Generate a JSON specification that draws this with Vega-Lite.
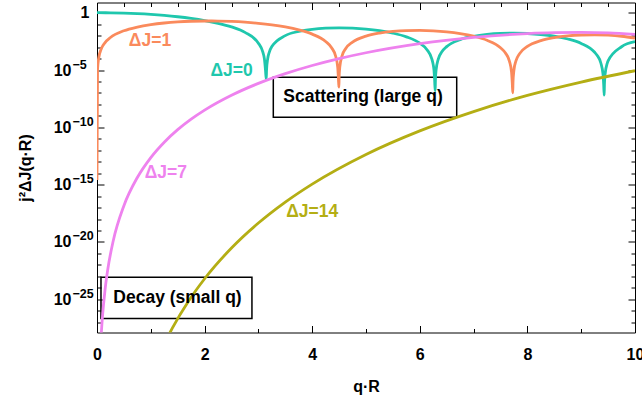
{
  "$schema": "https://vega.github.io/schema/vega-lite/v6.json",
  "width": 538,
  "height": 330,
  "autosize": {"type": "none"},
  "padding": {"left": 97, "top": 2.5, "right": 7, "bottom": 69.5},
  "background": "white",
  "config": {"view": {"stroke": "black", "strokeWidth": 1}, "font": "Liberation Sans"},
  "datasets": {
    "curves": [
      {"s": "ΔJ=0", "x": 0, "v": 1},
      {"s": "ΔJ=0", "x": 0.25, "v": 0.97934},
      {"s": "ΔJ=0", "x": 0.5, "v": 0.919397},
      {"s": "ΔJ=0", "x": 0.75, "v": 0.826012},
      {"s": "ΔJ=0", "x": 1, "v": 0.708073},
      {"s": "ΔJ=0", "x": 1.25, "v": 0.576366},
      {"s": "ΔJ=0", "x": 1.5, "v": 0.442221},
      {"s": "ΔJ=0", "x": 1.75, "v": 0.316157},
      {"s": "ΔJ=0", "x": 2, "v": 0.206705},
      {"s": "ΔJ=0", "x": 2.25, "v": 0.119585},
      {"s": "ΔJ=0", "x": 2.5, "v": 0.057307},
      {"s": "ΔJ=0", "x": 2.75, "v": 0.019262},
      {"s": "ΔJ=0", "x": 3, "v": 0.0022128},
      {"s": "ΔJ=0", "x": 3.0816, "v": 3.7884e-4},
      {"s": "ΔJ=0", "x": 3.1116, "v": 9.294e-5},
      {"s": "ΔJ=0", "x": 3.1316, "v": 1.0196e-5},
      {"s": "ΔJ=0", "x": 3.1456, "v": 1.617e-6},
      {"s": "ΔJ=0", "x": 3.1516, "v": 1.0068e-5},
      {"s": "ΔJ=0", "x": 3.1716, "v": 8.946e-5},
      {"s": "ΔJ=0", "x": 3.2016, "v": 3.5097e-4},
      {"s": "ΔJ=0", "x": 3.25, "v": 0.0011083},
      {"s": "ΔJ=0", "x": 3.5, "v": 0.010045},
      {"s": "ΔJ=0", "x": 3.75, "v": 0.023231},
      {"s": "ΔJ=0", "x": 4, "v": 0.035797},
      {"s": "ΔJ=0", "x": 4.25, "v": 0.044346},
      {"s": "ΔJ=0", "x": 4.5, "v": 0.047188},
      {"s": "ΔJ=0", "x": 4.75, "v": 0.044258},
      {"s": "ΔJ=0", "x": 5, "v": 0.036781},
      {"s": "ΔJ=0", "x": 5.25, "v": 0.026767},
      {"s": "ΔJ=0", "x": 5.5, "v": 0.016456},
      {"s": "ΔJ=0", "x": 5.75, "v": 0.0078273},
      {"s": "ΔJ=0", "x": 6, "v": 0.0021687},
      {"s": "ΔJ=0", "x": 6.1332, "v": 5.9746e-4},
      {"s": "ΔJ=0", "x": 6.2232, "v": 9.294e-5},
      {"s": "ΔJ=0", "x": 6.25, "v": 2.8181e-5},
      {"s": "ΔJ=0", "x": 6.2632, "v": 1.0196e-5},
      {"s": "ΔJ=0", "x": 6.2762, "v": 1.2439e-6},
      {"s": "ΔJ=0", "x": 6.2857, "v": 1.5832e-7},
      {"s": "ΔJ=0", "x": 6.2902, "v": 1.2385e-6},
      {"s": "ΔJ=0", "x": 6.3032, "v": 1.0068e-5},
      {"s": "ΔJ=0", "x": 6.3432, "v": 8.946e-5},
      {"s": "ΔJ=0", "x": 6.4132, "v": 4.1055e-4},
      {"s": "ΔJ=0", "x": 6.5, "v": 0.0010953},
      {"s": "ΔJ=0", "x": 6.75, "v": 0.0044453},
      {"s": "ΔJ=0", "x": 7, "v": 0.0088088},
      {"s": "ΔJ=0", "x": 7.25, "v": 0.012889},
      {"s": "ΔJ=0", "x": 7.5, "v": 0.015642},
      {"s": "ΔJ=0", "x": 7.75, "v": 0.01647},
      {"s": "ΔJ=0", "x": 8, "v": 0.015294},
      {"s": "ΔJ=0", "x": 8.25, "v": 0.012506},
      {"s": "ΔJ=0", "x": 8.5, "v": 0.0088247},
      {"s": "ΔJ=0", "x": 8.75, "v": 0.0050975},
      {"s": "ΔJ=0", "x": 9, "v": 0.0020968},
      {"s": "ΔJ=0", "x": 9.25, "v": 3.5518e-4},
      {"s": "ΔJ=0", "x": 9.2948, "v": 1.9553e-4},
      {"s": "ΔJ=0", "x": 9.3648, "v": 4.1047e-5},
      {"s": "ΔJ=0", "x": 9.4048, "v": 4.5224e-6},
      {"s": "ΔJ=0", "x": 9.4178, "v": 5.5245e-7},
      {"s": "ΔJ=0", "x": 9.4272, "v": 6.4846e-8},
      {"s": "ΔJ=0", "x": 9.4318, "v": 5.5082e-7},
      {"s": "ΔJ=0", "x": 9.4448, "v": 4.4842e-6},
      {"s": "ΔJ=0", "x": 9.4848, "v": 4.0014e-5},
      {"s": "ΔJ=0", "x": 9.5, "v": 6.2578e-5},
      {"s": "ΔJ=0", "x": 9.75, "v": 0.0010711},
      {"s": "ΔJ=0", "x": 10, "v": 0.0029596},

      {"s": "ΔJ=1", "x": 1.5e-7, "v": 2.5e-15},
      {"s": "ΔJ=1", "x": 0.01, "v": 1.1111e-5},
      {"s": "ΔJ=1", "x": 0.03, "v": 9.998e-5},
      {"s": "ΔJ=1", "x": 0.08, "v": 7.102e-4},
      {"s": "ΔJ=1", "x": 0.15, "v": 0.0024888},
      {"s": "ΔJ=1", "x": 0.25, "v": 0.006858},
      {"s": "ΔJ=1", "x": 0.5, "v": 0.026419},
      {"s": "ΔJ=1", "x": 0.75, "v": 0.055798},
      {"s": "ΔJ=1", "x": 1, "v": 0.090703},
      {"s": "ΔJ=1", "x": 1.25, "v": 0.126091},
      {"s": "ΔJ=1", "x": 1.5, "v": 0.156953},
      {"s": "ΔJ=1", "x": 1.75, "v": 0.179062},
      {"s": "ΔJ=1", "x": 2, "v": 0.189571},
      {"s": "ΔJ=1", "x": 2.25, "v": 0.187387},
      {"s": "ΔJ=1", "x": 2.5, "v": 0.173233},
      {"s": "ΔJ=1", "x": 2.75, "v": 0.149443},
      {"s": "ΔJ=1", "x": 3, "v": 0.119493},
      {"s": "ΔJ=1", "x": 3.25, "v": 0.087405},
      {"s": "ΔJ=1", "x": 3.5, "v": 0.057085},
      {"s": "ΔJ=1", "x": 3.75, "v": 0.031745},
      {"s": "ΔJ=1", "x": 4, "v": 0.013482},
      {"s": "ΔJ=1", "x": 4.25, "v": 0.0030705},
      {"s": "ΔJ=1", "x": 4.3634, "v": 8.443e-4},
      {"s": "ΔJ=1", "x": 4.4334, "v": 1.7445e-4},
      {"s": "ΔJ=1", "x": 4.4734, "v": 1.9045e-5},
      {"s": "ΔJ=1", "x": 4.4864, "v": 2.3195e-6},
      {"s": "ΔJ=1", "x": 4.496, "v": 3.19e-7},
      {"s": "ΔJ=1", "x": 4.5, "v": 2.0437e-6},
      {"s": "ΔJ=1", "x": 4.5134, "v": 1.8709e-5},
      {"s": "ΔJ=1", "x": 4.5534, "v": 1.6538e-4},
      {"s": "ΔJ=1", "x": 4.6234, "v": 7.5202e-4},
      {"s": "ΔJ=1", "x": 4.75, "v": 0.0027255},
      {"s": "ΔJ=1", "x": 5, "v": 0.009042},
      {"s": "ΔJ=1", "x": 5.25, "v": 0.016564},
      {"s": "ΔJ=1", "x": 5.5, "v": 0.023157},
      {"s": "ΔJ=1", "x": 5.75, "v": 0.027262},
      {"s": "ΔJ=1", "x": 6, "v": 0.028153},
      {"s": "ΔJ=1", "x": 6.25, "v": 0.025844},
      {"s": "ΔJ=1", "x": 6.5, "v": 0.021069},
      {"s": "ΔJ=1", "x": 6.75, "v": 0.014987},
      {"s": "ΔJ=1", "x": 7, "v": 0.008891},
      {"s": "ΔJ=1", "x": 7.25, "v": 0.0039282},
      {"s": "ΔJ=1", "x": 7.5, "v": 8.7275e-4},
      {"s": "ΔJ=1", "x": 7.5953, "v": 2.8805e-4},
      {"s": "ΔJ=1", "x": 7.6653, "v": 6.0268e-5},
      {"s": "ΔJ=1", "x": 7.7053, "v": 6.6277e-6},
      {"s": "ΔJ=1", "x": 7.7183, "v": 8.0917e-7},
      {"s": "ΔJ=1", "x": 7.7278, "v": 1.0303e-7},
      {"s": "ΔJ=1", "x": 7.7323, "v": 8.0624e-7},
      {"s": "ΔJ=1", "x": 7.75, "v": 1.0046e-5},
      {"s": "ΔJ=1", "x": 7.7853, "v": 5.8423e-5},
      {"s": "ΔJ=1", "x": 7.8553, "v": 2.6929e-4},
      {"s": "ΔJ=1", "x": 8, "v": 0.0011321},
      {"s": "ΔJ=1", "x": 8.25, "v": 0.0036378},
      {"s": "ΔJ=1", "x": 8.5, "v": 0.0067038},
      {"s": "ΔJ=1", "x": 8.75, "v": 0.0094866},
      {"s": "ΔJ=1", "x": 9, "v": 0.011305},
      {"s": "ΔJ=1", "x": 9.25, "v": 0.01177},
      {"s": "ΔJ=1", "x": 9.5, "v": 0.010844},
      {"s": "ΔJ=1", "x": 9.75, "v": 0.0088071},
      {"s": "ΔJ=1", "x": 10, "v": 0.0061571},

      {"s": "ΔJ=7", "x": 0.06, "v": 1.908e-30},
      {"s": "ΔJ=7", "x": 0.08, "v": 1.0703e-28},
      {"s": "ΔJ=7", "x": 0.1, "v": 2.432e-27},
      {"s": "ΔJ=7", "x": 0.15, "v": 7.096e-25},
      {"s": "ΔJ=7", "x": 0.2, "v": 3.978e-23},
      {"s": "ΔJ=7", "x": 0.3, "v": 1.1579e-20},
      {"s": "ΔJ=7", "x": 0.5, "v": 1.4638e-17},
      {"s": "ΔJ=7", "x": 0.75, "v": 4.1951e-15},
      {"s": "ΔJ=7", "x": 1, "v": 2.295e-13},
      {"s": "ΔJ=7", "x": 1.25, "v": 5.0469e-12},
      {"s": "ΔJ=7", "x": 1.5, "v": 6.2212e-11},
      {"s": "ΔJ=7", "x": 1.75, "v": 5.1313e-10},
      {"s": "ΔJ=7", "x": 2, "v": 3.1471e-9},
      {"s": "ΔJ=7", "x": 2.5, "v": 6.2536e-8},
      {"s": "ΔJ=7", "x": 3, "v": 6.8044e-7},
      {"s": "ΔJ=7", "x": 3.5, "v": 4.8309e-6},
      {"s": "ΔJ=7", "x": 4, "v": 2.4863e-5},
      {"s": "ΔJ=7", "x": 4.5, "v": 9.918e-5},
      {"s": "ΔJ=7", "x": 5, "v": 3.2051e-4},
      {"s": "ΔJ=7", "x": 6, "v": 0.0020001},
      {"s": "ΔJ=7", "x": 7, "v": 0.007043},
      {"s": "ΔJ=7", "x": 8, "v": 0.014951},
      {"s": "ΔJ=7", "x": 8.5, "v": 0.018047},
      {"s": "ΔJ=7", "x": 9, "v": 0.019029},
      {"s": "ΔJ=7", "x": 9.5, "v": 0.017206},
      {"s": "ΔJ=7", "x": 10, "v": 0.012856},

      {"s": "ΔJ=14", "x": 1.2, "v": 4.107e-30},
      {"s": "ΔJ=14", "x": 1.4, "v": 3.025e-28},
      {"s": "ΔJ=14", "x": 1.7, "v": 6.741e-26},
      {"s": "ΔJ=14", "x": 2, "v": 6.156e-24},
      {"s": "ΔJ=14", "x": 2.5, "v": 2.958e-21},
      {"s": "ΔJ=14", "x": 3, "v": 4.46e-19},
      {"s": "ΔJ=14", "x": 3.5, "v": 3.005e-17},
      {"s": "ΔJ=14", "x": 4, "v": 1.1176e-15},
      {"s": "ΔJ=14", "x": 5, "v": 4.296e-13},
      {"s": "ΔJ=14", "x": 6, "v": 4.91e-11},
      {"s": "ΔJ=14", "x": 7, "v": 2.3728e-9},
      {"s": "ΔJ=14", "x": 8, "v": 6.107e-8},
      {"s": "ΔJ=14", "x": 9, "v": 8.922e-7},
      {"s": "ΔJ=14", "x": 10, "v": 8.65e-6}
    ],
    "labels": [
      {"s": "ΔJ=1", "x": 0.985, "y": 3.09e-3},
      {"s": "ΔJ=0", "x": 2.5, "y": 8.13e-6},
      {"s": "ΔJ=7", "x": 1.28, "y": 1e-14},
      {"s": "ΔJ=14", "x": 4.0, "y": 3.72e-18}
    ],
    "boxes": [
      {"t": "Scattering (large q)", "x1": 3.277, "x2": 6.686, "y1": 2.29e-6, "y2": 7.41e-10, "tx": 4.944, "ty": 4.17e-8},
      {"t": "Decay (small q)", "x1": 0.074, "x2": 2.88, "y1": 8.13e-24, "y2": 2.14e-27, "tx": 1.496, "ty": 1.318e-25}
    ]
  },
  "layer": [
    {
      "data": {"name": "boxes"},
      "mark": {"type": "rect", "fill": "white", "fillOpacity": 0, "stroke": "black", "strokeWidth": 1.5},
      "encoding": {
        "x": {"field": "x1", "type": "quantitative",
          "scale": {"domain": [0, 10], "nice": false, "zero": false},
          "axis": {"orient": "top", "values": [0,0.5,1,1.5,2,2.5,3,3.5,4,4.5,5,5.5,6,6.5,7,7.5,8,8.5,9,9.5,10],
            "labels": false, "title": null, "domain": false, "grid": false, "tickColor": "black", "tickWidth": 1,
            "tickSize": {"condition": {"test": "datum.value % 2 === 0", "value": -7}, "value": -4}}},
        "x2": {"field": "x2"},
        "y": {"field": "y1", "type": "quantitative",
          "scale": {"type": "log", "domain": [1.259e-28, 7.762], "nice": false},
          "axis": {"orient": "right", "values": [1e-27,1e-26,1e-25,1e-24,1e-23,1e-22,1e-21,1e-20,1e-19,1e-18,1e-17,1e-16,1e-15,1e-14,1e-13,1e-12,1e-11,1e-10,1e-9,1e-8,1e-7,1e-6,1e-5,1e-4,1e-3,1e-2,1e-1,1],
            "labels": false, "title": null, "domain": false, "grid": false, "tickColor": "black", "tickWidth": 1,
            "tickSize": {"condition": {"test": "abs(round(log(datum.value)/LN10)) % 5 === 0", "value": -7}, "value": -4}}},
        "y2": {"field": "y2"}
      }
    },
    {
      "data": {"name": "curves"},
      "mark": {"type": "line", "strokeWidth": 2.8, "clip": true, "interpolate": "monotone"},
      "encoding": {
        "x": {"field": "x", "type": "quantitative",
          "scale": {"domain": [0, 10], "nice": false, "zero": false},
          "axis": {"orient": "bottom", "values": [0,0.5,1,1.5,2,2.5,3,3.5,4,4.5,5,5.5,6,6.5,7,7.5,8,8.5,9,9.5,10],
            "format": "d",
            "labelExpr": "datum.value % 2 === 0 ? datum.label : ''",
            "labelFont": "Liberation Sans", "labelFontWeight": "bold", "labelFontSize": 16, "labelColor": "black",
            "labelPadding": 21, "labelFlush": false, "labelOverlap": false,
            "domain": false, "grid": false, "tickColor": "black", "tickWidth": 1,
            "tickSize": {"condition": {"test": "datum.value % 2 === 0", "value": -7}, "value": -4},
            "title": "q·R", "titleFont": "Liberation Sans", "titleFontWeight": "bold", "titleFontSize": 16, "titleColor": "black",
            "titleY": 54, "titleBaseline": "middle"}},
        "y": {"field": "v", "type": "quantitative",
          "scale": {"type": "log", "domain": [1.259e-28, 7.762], "nice": false},
          "axis": {"orient": "left", "values": [1e-27,1e-26,1e-25,1e-24,1e-23,1e-22,1e-21,1e-20,1e-19,1e-18,1e-17,1e-16,1e-15,1e-14,1e-13,1e-12,1e-11,1e-10,1e-9,1e-8,1e-7,1e-6,1e-5,1e-4,1e-3,1e-2,1e-1,1],
            "labelExpr": "round(log(datum.value)/LN10) === 0 ? '1' : round(log(datum.value)/LN10) % 5 === 0 ? '10' : ''",
            "labelFont": "Liberation Sans", "labelFontWeight": "bold", "labelFontSize": 16, "labelColor": "black",
            "labelPadding": {"condition": {"test": "datum.value > 0.5", "value": 15}, "value": 33},
            "labelOverlap": false, "labelFlush": false,
            "domain": false, "grid": false, "tickColor": "black", "tickWidth": 1,
            "tickSize": {"condition": {"test": "abs(round(log(datum.value)/LN10)) % 5 === 0", "value": -7}, "value": -4},
            "title": "j²ΔJ(q·R)", "titleFont": "Liberation Sans", "titleFontWeight": "bold", "titleFontSize": 16, "titleColor": "black",
            "titleX": -72, "titleBaseline": "middle"}},
        "color": {"field": "s", "type": "nominal",
          "scale": {"domain": ["ΔJ=0", "ΔJ=1", "ΔJ=7", "ΔJ=14"], "range": ["#1fc7ad", "#fa8a5c", "#ee82ee", "#b4ae14"]},
          "legend": null}
      }
    },
    {
      "data": {"name": "labels"},
      "mark": {"type": "text", "font": "Liberation Sans", "fontWeight": "bold", "fontSize": 17.5},
      "encoding": {
        "x": {"field": "x", "type": "quantitative", "axis": null},
        "y": {"field": "y", "type": "quantitative",
          "axis": {"orient": "left", "values": [1e-25,1e-20,1e-15,1e-10,1e-5],
            "labelExpr": "'−' + abs(round(log(datum.value)/LN10))",
            "labelFont": "Liberation Sans", "labelFontWeight": "bold", "labelFontSize": 12.5, "labelColor": "black",
            "labelAlign": "left", "labelPadding": 25, "labelOffset": -6,
            "labelOverlap": false, "labelFlush": false,
            "ticks": false, "domain": false, "grid": false, "title": null}},
        "text": {"field": "s"},
        "color": {"field": "s", "type": "nominal", "legend": null}
      }
    },
    {
      "data": {"name": "boxes"},
      "mark": {"type": "text", "font": "Liberation Sans", "fontWeight": "bold", "fontSize": 17.5, "color": "black"},
      "encoding": {
        "x": {"field": "tx", "type": "quantitative", "axis": null},
        "y": {"field": "ty", "type": "quantitative", "axis": null},
        "text": {"field": "t"}
      }
    }
  ],
  "resolve": {"axis": {"x": "independent", "y": "independent"}}
}
